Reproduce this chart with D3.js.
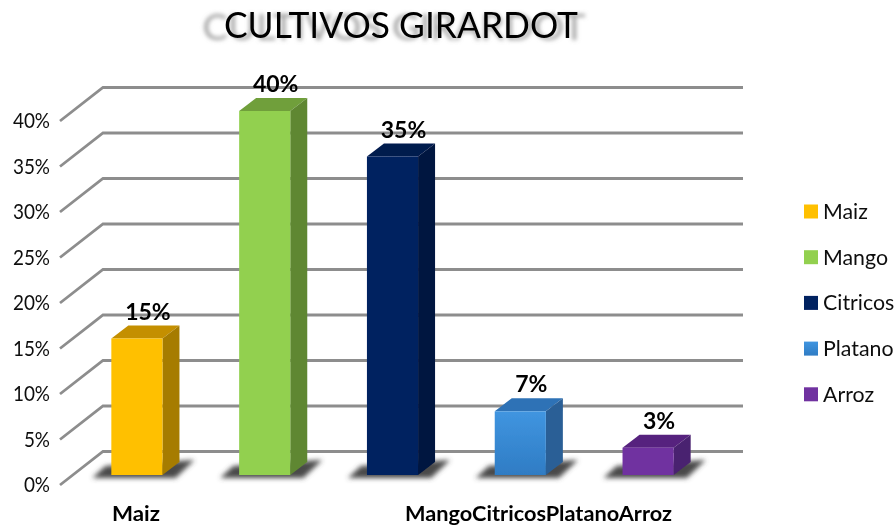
<!DOCTYPE html>
<html>
<head>
<meta charset="utf-8">
<script src="https://cdn.jsdelivr.net/npm/d3@7"></script>
<style>
  html, body { margin: 0; padding: 0; background: #fff; }
  svg { display: block; }
  text { font-family: Lato, "Open Sans", sans-serif; fill: #111; }
</style>
</head>
<body>
<div id="chart"></div>
<script>
var categories = ["Maiz", "Mango", "Citricos", "Platano", "Arroz"];
var values = [15, 40, 35, 7, 3];
var tickValues = [0, 5, 10, 15, 20, 25, 30, 35, 40];
var frontColors = ["#ffc000", "#92d050", "#002060", "#4095e0", "#7030a0"];
var lowColors = ["#ffc000", "#92d050", "#002060", "#2f7cc4", "#7030a0"];
var topColors = ["#c48f00", "#6f9f3a", "#001a4e", "#2e72b6", "#56247e"];
var sideColors = ["#a67c00", "#5f8733", "#001540", "#2a5f96", "#4a2070"];
var chartTitle = "CULTIVOS GIRARDOT";

var w = 896, h = 529;

var svg = d3.select("#chart").append("svg")
    .attr("width", w)
    .attr("height", h);

var defs = svg.append("defs");
defs.append("filter").attr("id", "titleBlur")
    .attr("x", "-10%").attr("y", "-30%").attr("width", "120%").attr("height", "160%")
  .append("feGaussianBlur").attr("stdDeviation", 1.9);
defs.append("filter").attr("id", "floorBlur")
    .attr("x", "-30%").attr("y", "-60%").attr("width", "160%").attr("height", "220%")
  .append("feGaussianBlur").attr("stdDeviation", 2.8);
defs.append("filter").attr("id", "soft")
    .attr("filterUnits", "userSpaceOnUse")
    .attr("x", 0).attr("y", 0).attr("width", w).attr("height", h)
  .append("feGaussianBlur").attr("stdDeviation", 0.4);

categories.forEach(function(c, i) {
    var g = defs.append("linearGradient").attr("id", "front" + i)
        .attr("x1", 0).attr("y1", 0).attr("x2", 0).attr("y2", 1);
    g.append("stop").attr("offset", "0%").attr("stop-color", frontColors[i]);
    g.append("stop").attr("offset", "100%").attr("stop-color", lowColors[i]);
});

// squeeze a text sideways, Lato runs wider than the font of the picture
function squeeze(sel, k) {
    sel.each(function() {
        d3.select(this)
            .attr("textLength", this.getComputedTextLength() * k)
            .attr("lengthAdjust", "spacingAndGlyphs");
    });
}

// front edge of the wall, the back wall sits up and to the right of it
var y = d3.scaleLinear().domain([0, 40]).range([485, 121]);
var x = d3.scaleBand().domain(categories).range([60, 699]).paddingInner(0.6).paddingOuter(0.3);

var wallDx = 43, wallDy = -33.5, wallRight = 743;
var barDx = 13, barDy = -10, depthX = 17, depthY = 13;

var root = svg.append("g").attr("filter", "url(#soft)");
var art = root.append("g");

// grid
art.append("g").selectAll("path")
    .data(tickValues)
    .enter().append("path")
    .attr("fill", "none")
    .attr("stroke", "#8d8d8d")
    .attr("stroke-width", 2.8)
    .attr("d", function(d) {
        return d3.line()([[60, y(d)], [60 + wallDx, y(d) + wallDy], [wallRight, y(d) + wallDy]]);
    });

// floor shadows
art.append("g").selectAll("path")
    .data(categories)
    .enter().append("path")
    .attr("fill", "#4a4a4a")
    .attr("filter", "url(#floorBlur)")
    .attr("d", function(d) {
        var l = x(d) + barDx, r = l + x.bandwidth(), b = y(0) + barDy;
        return d3.line()([[l - 19, b + 3], [l - 6, b - 9], [r + 32, b - 15], [r + 13, b + 3]]);
    });

var bars = art.append("g").selectAll("g")
    .data(values)
    .enter().append("g");

bars.append("path")
    .attr("fill", function(d, i) { return topColors[i]; })
    .attr("d", function(d, i) {
        var l = x(categories[i]) + barDx, r = l + x.bandwidth(), t = y(d) + barDy;
        return d3.line()([[l, t], [l + depthX, t - depthY], [r + depthX, t - depthY], [r, t]]) + "Z";
    });

bars.append("path")
    .attr("fill", function(d, i) { return sideColors[i]; })
    .attr("d", function(d, i) {
        var r = x(categories[i]) + barDx + x.bandwidth(), t = y(d) + barDy, b = y(0) + barDy;
        return d3.line()([[r, t], [r + depthX, t - depthY], [r + depthX, b - depthY], [r, b]]) + "Z";
    });

bars.append("rect")
    .attr("x", function(d, i) { return x(categories[i]) + barDx; })
    .attr("y", function(d) { return y(d) + barDy; })
    .attr("width", x.bandwidth())
    .attr("height", function(d) { return y(0) - y(d); })
    .attr("fill", function(d, i) { return "url(#front" + i + ")"; });

// value labels
root.append("g").selectAll("text")
    .data(values)
    .enter().append("text")
    .attr("x", function(d, i) { return x(categories[i]) + barDx + x.bandwidth() / 2 + 11; })
    .attr("y", function(d) { return y(d) + barDy - 19; })
    .attr("text-anchor", "middle")
    .attr("font-size", 23)
    .attr("font-weight", 700)
    .style("fill", "#000")
    .text(function(d) { return d + "%"; });

// y axis
var yAxis = root.append("g")
    .attr("transform", "translate(50,0)")
    .call(d3.axisLeft(y).tickValues(tickValues).tickSize(0).tickPadding(0)
        .tickFormat(function(d) { return d + "%"; }));
yAxis.select(".domain").remove();
yAxis.selectAll("text")
    .attr("font-size", 21)
    .style("font-family", "Lato, sans-serif")
    .attr("dy", "0.32em")
    .call(squeeze, 0.9);
yAxis.attr("font-family", null).attr("font-size", null);

// x labels run together after the first one, as in the picture
var xLabels = root.append("g");
xLabels.append("text")
    .attr("x", x(categories[0]) + barDx + x.bandwidth() / 2 - 1)
    .attr("y", 521)
    .attr("text-anchor", "middle")
    .attr("font-size", 21)
    .attr("font-weight", 700)
    .style("fill", "#000")
    .attr("textLength", 48)
    .attr("lengthAdjust", "spacingAndGlyphs")
    .text(categories[0]);
xLabels.append("text")
    .attr("x", 405)
    .attr("y", 521)
    .attr("font-size", 21)
    .attr("font-weight", 700)
    .style("fill", "#000")
    .attr("textLength", 267)
    .attr("lengthAdjust", "spacingAndGlyphs")
    .text(categories.slice(1).join(""));

// legend
var legend = root.append("g").selectAll("g")
    .data(categories)
    .enter().append("g")
    .attr("transform", function(d, i) { return "translate(804," + (204.5 + i * 45.7) + ")"; });
legend.append("rect")
    .attr("width", 14)
    .attr("height", 14)
    .attr("fill", function(d, i) { return "url(#front" + i + ")"; });
legend.append("text")
    .attr("x", 19)
    .attr("y", 14.5)
    .attr("font-size", 22)
    .text(function(d) { return d; })
    .call(squeeze, 0.97);

// title with its blurred echo behind
root.append("text")
    .attr("x", 394)
    .attr("y", 40)
    .attr("text-anchor", "middle")
    .attr("font-size", 36)
    .attr("textLength", 383)
    .attr("lengthAdjust", "spacingAndGlyphs")
    .attr("filter", "url(#titleBlur)")
    .style("fill", "#a0a0a0")
    .text(chartTitle);
root.append("text")
    .attr("x", 401)
    .attr("y", 38)
    .attr("text-anchor", "middle")
    .attr("font-size", 37)
    .attr("textLength", 354)
    .attr("lengthAdjust", "spacingAndGlyphs")
    .style("fill", "#000")
    .text(chartTitle);
</script>
</body>
</html>
